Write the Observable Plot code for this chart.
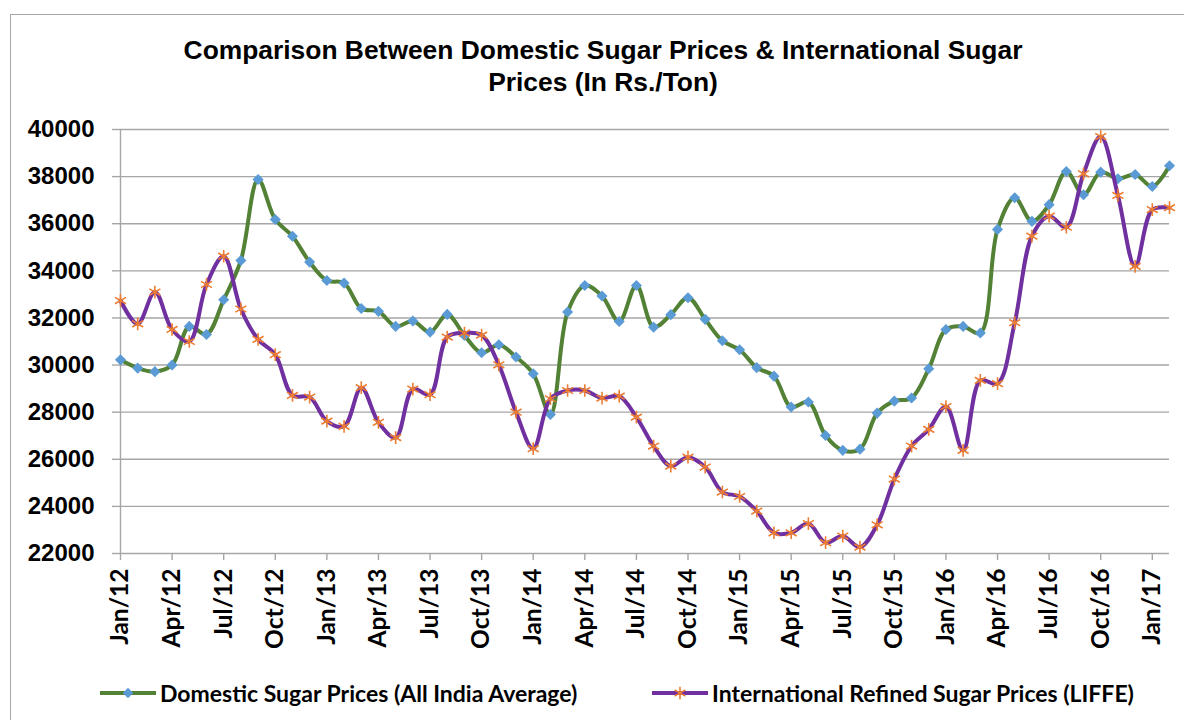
<!DOCTYPE html>
<html><head><meta charset="utf-8">
<script src="https://cdn.jsdelivr.net/npm/d3@7"></script>
<script src="https://cdn.jsdelivr.net/npm/@observablehq/plot@0.6"></script>
<style>
body{margin:0;background:#fff;}
#wrap{position:relative;width:1184px;height:720px;overflow:hidden;background:#fff;}
#border{position:absolute;left:10px;top:14px;width:1200px;height:730px;border:1.5px solid #a6a6a6;box-sizing:border-box;}
#title{position:absolute;left:0;width:1206px;top:34px;text-align:center;font:bold 26.4px "Liberation Sans",Arial,sans-serif;line-height:32px;color:#000;}
#chart{position:absolute;left:0;top:100px;}
.leg{position:absolute;top:680px;height:26px;display:flex;align-items:center;font:bold 23px Lato,sans-serif;color:#000;white-space:nowrap;}
.leg svg{margin-right:4px;}
</style>
</head><body>
<div id="wrap">
<div id="border"></div>
<div id="title">Comparison Between Domestic Sugar Prices &amp; International Sugar<br>Prices (In Rs./Ton)</div>
<div id="chart"></div>
<div class="leg" id="leg1" style="left:100px"></div>
<div class="leg" id="leg2" style="left:652px"></div>
</div>
<script>
const months = ["Jan/12","Feb/12","Mar/12","Apr/12","May/12","Jun/12","Jul/12","Aug/12","Sep/12","Oct/12","Nov/12","Dec/12",
"Jan/13","Feb/13","Mar/13","Apr/13","May/13","Jun/13","Jul/13","Aug/13","Sep/13","Oct/13","Nov/13","Dec/13",
"Jan/14","Feb/14","Mar/14","Apr/14","May/14","Jun/14","Jul/14","Aug/14","Sep/14","Oct/14","Nov/14","Dec/14",
"Jan/15","Feb/15","Mar/15","Apr/15","May/15","Jun/15","Jul/15","Aug/15","Sep/15","Oct/15","Nov/15","Dec/15",
"Jan/16","Feb/16","Mar/16","Apr/16","May/16","Jun/16","Jul/16","Aug/16","Sep/16","Oct/16","Nov/16","Dec/16",
"Jan/17","Feb/17"];
const domestic = [30220,29870,29720,30000,31640,31300,32770,34440,37880,36180,
35470,34370,33590,33480,32400,32280,31640,31870,31400,32150,
31260,30520,30860,30340,29630,27900,32250,33380,32930,31850,
33380,31610,32140,32860,31940,31030,30650,29890,29530,28220,
28430,27010,26380,26430,27960,28470,28600,29840,31510,31640,
31360,35760,37100,36100,36810,38220,37230,38190,37910,38090,
37580,38460];
const international = [32740,31750,33100,31510,31000,33420,34620,32380,31090,30440,
28710,28640,27620,27400,29040,27570,26920,28980,28740,31190,
31360,31270,30010,28000,26450,28570,28920,28920,28600,28680,
27790,26560,25710,26090,25670,24610,24420,23800,22880,22880,
23270,22460,22740,22270,23220,25160,26560,27270,28240,26380,
29350,29210,31800,35470,36320,35850,38120,39700,37200,34190,
36600,36680];
const seriesNames = ["Domestic Sugar Prices (All India Average)","International Refined Sugar Prices (LIFFE)"];
const yTicks = [22000,24000,26000,28000,30000,32000,34000,36000,38000,40000];
const xTickIdx = [0,3,6,9,12,15,18,21,24,27,30,33,36,39,42,45,48,51,54,57,60];

const COL = {dLine:"#538135", dMark:"#5B9BD5", iLine:"#7030A0", iMark:"#ED7D31", grid:"#a6a6a6"};

const dom = months.map((m,i)=>({i, m, v:domestic[i]}));
const intl = months.map((m,i)=>({i, m, v:international[i]}));

const chart = Plot.plot({
  width:1184, height:560,
  marginLeft:120, marginRight:15, marginTop:29, marginBottom:107,
  style:{background:"transparent", overflow:"visible"},
  x:{type:"linear", domain:[0,61], label:null},
  y:{domain:[22000,40000], label:null},
  marks:[
    Plot.gridY(yTicks,{stroke:COL.grid, strokeOpacity:1, strokeWidth:1.4}),
    Plot.ruleX([0],{stroke:COL.grid, strokeWidth:1.4}),
    Plot.axisY(yTicks,{label:null, tickSize:8, tickPadding:18, stroke:COL.grid, strokeWidth:1.4, fill:"#000",
      fontSize:24, fontWeight:"bold", fontFamily:"Liberation Sans, Arial, sans-serif", tickFormat:d=>String(d)}),
    Plot.axisX(xTickIdx,{label:null, tickSize:7, tickPadding:8, tickRotate:-90, stroke:COL.grid, strokeWidth:1.4, fill:"#000",
      fontSize:24.5, fontWeight:"bold", fontFamily:"Lato, sans-serif", tickFormat:i=>months[i]}),
    Plot.line(dom,{x:"i", y:"v", stroke:COL.dLine, strokeWidth:4, curve:"catmull-rom"}),
    Plot.dot(dom,{x:"i", y:"v", symbol:"diamond2", r:5, fill:COL.dMark, stroke:null}),
    Plot.line(intl,{x:"i", y:"v", stroke:COL.iLine, strokeWidth:4, curve:"catmull-rom"}),
    Plot.dot(intl,{x:"i", y:"v", symbol:"asterisk", r:6, stroke:COL.iMark, strokeWidth:1.6, fill:"none"})
  ]
});
document.getElementById("chart").appendChild(chart);

function legendSample(line, mark, sym){
  const svg = d3.create("svg").attr("width",56).attr("height",20);
  svg.append("line").attr("x1",0).attr("x2",56).attr("y1",10).attr("y2",10).attr("stroke",line).attr("stroke-width",4);
  const p = d3.symbol(sym==="star"?d3.symbolAsterisk:d3.symbolDiamond2, sym==="star"?110:70)();
  const g = svg.append("path").attr("d",p).attr("transform","translate(28,10)");
  if(sym==="star") g.attr("fill","none").attr("stroke",mark).attr("stroke-width",1.6);
  else g.attr("fill",mark);
  return svg.node();
}
const l1 = document.getElementById("leg1");
l1.appendChild(legendSample(COL.dLine, COL.dMark, "diamond"));
l1.appendChild(document.createTextNode(seriesNames[0]));
const l2 = document.getElementById("leg2");
l2.appendChild(legendSample(COL.iLine, COL.iMark, "star"));
l2.appendChild(document.createTextNode(seriesNames[1]));
</script>
</body></html>
